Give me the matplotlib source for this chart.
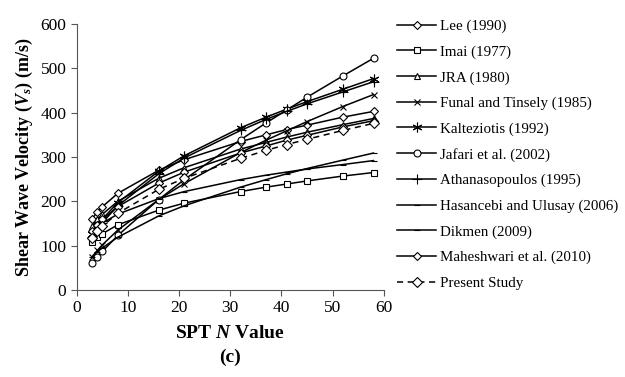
import matplotlib
matplotlib.use("Agg")
import matplotlib.pyplot as plt

plt.rcParams["font.family"] = ["Liberation Serif", "DejaVu Serif"]
plt.rcParams["mathtext.fontset"] = "custom"
plt.rcParams["mathtext.rm"] = "Liberation Serif:bold"
plt.rcParams["mathtext.it"] = "Liberation Serif:bold:italic"
plt.rcParams["mathtext.bf"] = "Liberation Serif:bold"

# SPT N values at which every correlation is evaluated
spt_n = [3, 4, 5, 8, 16, 21, 32, 37, 41, 45, 52, 58]

# Shear wave velocity (m/s) for each correlation
lee_1990 = [161, 176, 188, 218, 270, 294, 335, 350, 362, 372, 390, 403]
imai_1977 = [109, 119, 127, 147, 180, 196, 222, 232, 239, 246, 257, 265]
jra_1980 = [144, 159, 171, 200, 252, 276, 318, 333, 345, 356, 373, 387]
funal_1985 = [75, 89, 102, 135, 204, 240, 310, 338, 359, 380, 414, 441]
kalteziotis_1992 = [127, 145, 160, 197, 268, 303, 366, 390, 408, 425, 453, 477]
jafari_2002 = [60, 74, 87, 123, 204, 249, 339, 377, 406, 435, 483, 523]
athanasopoulos_1995 = [120, 137, 152, 190, 262, 298, 360, 385, 403, 420, 447, 470]
hasancebi_2006 = [132, 142, 151, 171, 206, 222, 249, 259, 266, 273, 283, 292]
dikmen_2009 = [75, 86, 95, 119, 167, 190, 232, 249, 262, 274, 293, 309]
maheshwari_2010 = [132, 147, 159, 188, 241, 266, 309, 325, 338, 349, 368, 382]
present_study = [118, 132, 144, 173, 227, 252, 297, 315, 328, 340, 360, 376]

series = [
    ("Lee (1990)", lee_1990, "D", "-", 4),
    ("Imai (1977)", imai_1977, "s", "-", 5),
    ("JRA (1980)", jra_1980, "^", "-", 5),
    ("Funal and Tinsely (1985)", funal_1985, "x", "-", 5),
    ("Kalteziotis (1992)", kalteziotis_1992, (6, 2, 0), "-", 7),
    ("Jafari et al. (2002)", jafari_2002, "o", "-", 5),
    ("Athanasopoulos (1995)", athanasopoulos_1995, "+", "-", 7),
    ("Hasancebi and Ulusay (2006)", hasancebi_2006, "_", "-", 4),
    ("Dikmen (2009)", dikmen_2009, "_", "-", 5),
    ("Maheshwari et al. (2010)", maheshwari_2010, "D", "-", 4),
    ("Present Study", present_study, "D", (0, (4, 3)), 5),
]

fig = plt.figure(figsize=(6.25, 3.77), dpi=100)
ax = fig.add_axes([0.123, 0.231, 0.491, 0.705])

for label, vals, marker, ls, ms in series:
    ax.plot(spt_n, vals, color="black", linestyle=ls, linewidth=1.1,
            marker=marker, markersize=ms, markerfacecolor="white",
            markeredgecolor="black", markeredgewidth=0.8, label=label)

ax.set_xlim(0, 60)
ax.set_ylim(0, 600)
ax.set_xticks(range(0, 61, 10))
ax.set_yticks(range(0, 601, 100))
for side in ("top", "right"):
    ax.spines[side].set_visible(False)
for side in ("left", "bottom"):
    ax.spines[side].set_color("#555555")
ax.tick_params(direction="out", length=4, color="#555555", labelsize=12.5)

ax.set_xlabel(r"SPT $N$ Value", fontsize=14, fontweight="bold", labelpad=6)
ax.set_ylabel(r"Shear Wave Velocity ($V_s$) (m/s)", fontsize=13,
              fontweight="bold", labelpad=4)
fig.text(0.3685, 0.03, "(c)", ha="center", va="bottom", fontsize=14,
         fontweight="bold")

ax.legend(loc="upper left", bbox_to_anchor=(1.025, 1.04), frameon=False,
          fontsize=10.8, numpoints=1, handlelength=2.6, labelspacing=0.8,
          handletextpad=0.25, borderaxespad=0)

fig.savefig("out.png", dpi=100)
